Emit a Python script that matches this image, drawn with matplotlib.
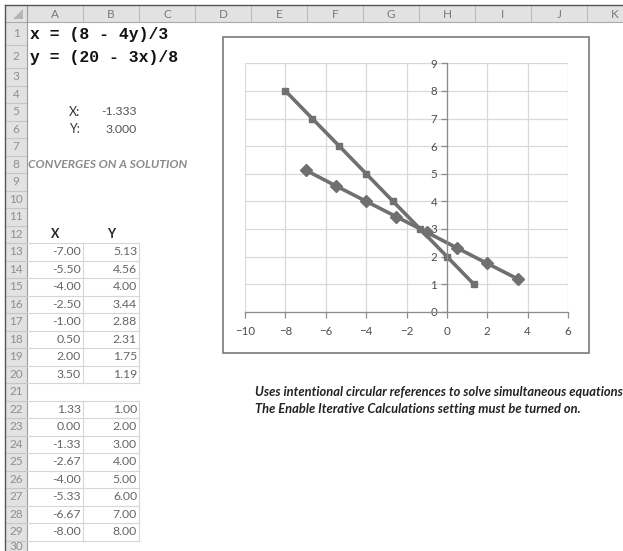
import matplotlib.pyplot as plt
from matplotlib.patches import Rectangle, Polygon

# sheet content
col_names = ["A", "B", "C", "D", "E", "F", "G", "H", "I", "J", "K"]
eq_lines = ["x = (8 - 4y)/3", "y = (20 - 3x)/8"]
sol_x = -1.333
sol_y = 3.000
status = "CONVERGES ON A SOLUTION"
x_a = [-7.00, -5.50, -4.00, -2.50, -1.00, 0.50, 2.00, 3.50]
y_a = [5.13, 4.56, 4.00, 3.44, 2.88, 2.31, 1.75, 1.19]
x_b = [1.33, 0.00, -1.33, -2.67, -4.00, -5.33, -6.67, -8.00]
y_b = [1.00, 2.00, 3.00, 4.00, 5.00, 6.00, 7.00, 8.00]
note = ["Uses intentional circular references to solve simultaneous equations",
        "The Enable Iterative Calculations setting must be turned on."]

W, H = 623, 551
fig = plt.figure(figsize=(W / 100, H / 100), dpi=100)
bg = fig.add_axes([0, 0, 1, 1])
bg.set_xlim(0, W)
bg.set_ylim(H, 0)
bg.axis("off")

# grid geometry (pixels)
col_edges = [27 + 56 * i for i in range(12)]
row_edges = [5, 22, 45, 68] + [68 + 17.5 * k for k in range(1, 29)]


def row_mid(r):
    return (row_edges[r] + row_edges[r + 1]) / 2


def col_mid(c):
    return (col_edges[c] + col_edges[c + 1]) / 2


sans = "Lato"
hdr_bg = "#e2e2e2"

# headers
bg.add_patch(Rectangle((5, 5), W - 5, 17, fc=hdr_bg, ec="none"))
bg.add_patch(Rectangle((5, 22), 22, H - 22, fc=hdr_bg, ec="none"))
bg.add_patch(Polygon([(23, 9), (23, 19), (13, 19)], closed=True, fc="#b5b5b5", ec="none"))
for xe in col_edges:
    bg.plot([xe, xe], [5, 22], color="#bdbdbd", lw=0.8)
for ye in row_edges[2:]:
    bg.plot([5, 27], [ye, ye], color="#c6c6c6", lw=0.8)
bg.plot([5, W], [22, 22], color="#ababab", lw=0.8)
bg.plot([27, 27], [5, H], color="#9e9e9e", lw=0.8)
bg.plot([5, W], [5, 5], color="#555555", lw=1.0)
bg.plot([5, 5], [5, H], color="#555555", lw=1.0)

for i, name in enumerate(col_names):
    bg.text(col_mid(i), 14, name, ha="center", va="center", fontsize=8.5,
            color="#7a7a7a", family=sans)
for r in range(1, 31):
    bg.text(16, min(row_mid(r), 547), str(r), ha="center", va="center", fontsize=8.5,
            color="#8f8f8f", family=sans)

# equations
for i, line in enumerate(eq_lines):
    bg.text(30, row_mid(i + 1) + 1, line, ha="left", va="center", fontsize=11.8,
            fontweight="bold", family="Liberation Mono", color="#111111")

# solution cells
bg.text(80, row_mid(5), "X:", ha="right", va="center", fontsize=9, color="#333333", family=sans)
bg.text(80, row_mid(6), "Y:", ha="right", va="center", fontsize=9, color="#333333", family=sans)
bg.text(137, row_mid(5), f"{sol_x:.3f}", ha="right", va="center", fontsize=8.8,
        color="#555555", family=sans)
bg.text(137, row_mid(6), f"{sol_y:.3f}", ha="right", va="center", fontsize=8.8,
        color="#555555", family=sans)
bg.text(28, row_mid(8), status, ha="left", va="center", fontsize=8.7,
        fontweight="bold", fontstyle="italic", color="#8a8a8a", family=sans)

# tables
bg.text(col_mid(0), row_mid(12), "X", ha="center", va="center", fontsize=9,
        fontweight="bold", color="#222222", family=sans)
bg.text(col_mid(1), row_mid(12), "Y", ha="center", va="center", fontsize=9,
        fontweight="bold", color="#222222", family=sans)


def draw_table(first_row, xs, ys):
    top = row_edges[first_row]
    bottom = row_edges[first_row + len(xs)]
    for k in range(len(xs) + 1):
        ye = row_edges[first_row + k]
        bg.plot([27, 139], [ye, ye], color="#d6d6d6", lw=0.8)
    for xe in (83, 139):
        bg.plot([xe, xe], [top, bottom], color="#d6d6d6", lw=0.8)
    for k, (xv, yv) in enumerate(zip(xs, ys)):
        yy = row_mid(first_row + k)
        bg.text(81, yy, f"{xv:.2f}", ha="right", va="center", fontsize=8.8,
                color="#666666", family=sans)
        bg.text(137, yy, f"{yv:.2f}", ha="right", va="center", fontsize=8.8,
                color="#666666", family=sans)


draw_table(13, x_a, y_a)
draw_table(22, x_b, y_b)

# note
for i, line in enumerate(note):
    bg.text(255, row_mid(21 + i), line, ha="left", va="center", fontsize=9.3,
            fontweight="bold", fontstyle="italic", color="#222222", family=sans)

# chart frame
bg.add_patch(Rectangle((223, 37), 366, 316, fc="white", ec="#7a7a7a", lw=1.2))

ax = fig.add_axes([245 / W, 1 - 311.7 / H, 323 / W, 248.4 / H])
ax.set_facecolor("none")
ax.set_xlim(-10, 6)
ax.set_ylim(0, 9)
ax.set_xticks(range(-10, 7, 2))
ax.set_yticks(range(0, 10))
ax.grid(True, color="#d9d9d9", lw=0.9)
ax.set_axisbelow(True)
for s in ("top", "right"):
    ax.spines[s].set_visible(False)
ax.spines["left"].set_position(("data", 0))
ax.spines["bottom"].set_position(("data", 0))
for s in ("left", "bottom"):
    ax.spines[s].set_color("#8c8c8c")
    ax.spines[s].set_linewidth(0.9)
ax.tick_params(axis="x", direction="out", length=4, width=0.9, color="#8c8c8c",
               pad=6, labelsize=8.3, labelcolor="#4d4d4d")
ax.tick_params(axis="y", direction="out", length=4, width=0.9, color="#8c8c8c",
               pad=3, labelsize=8.3, labelcolor="#4d4d4d")
for lab in ax.get_xticklabels() + ax.get_yticklabels():
    lab.set_family(sans)

ax.plot(x_a, y_a, color="#707070", lw=2.6, marker="D", ms=6.5, mfc="#707070",
        mec="#707070", clip_on=False)
ax.plot(x_b, y_b, color="#707070", lw=2.6, marker="s", ms=4.5, mfc="#707070",
        mec="#707070", clip_on=False)

fig.savefig("out.png", dpi=100)
